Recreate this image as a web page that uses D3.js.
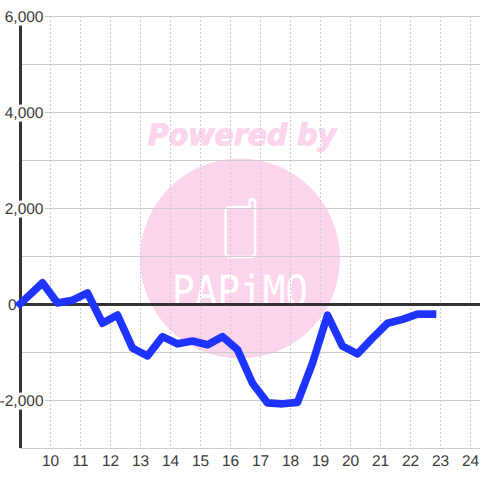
<!DOCTYPE html>
<html><head><meta charset="utf-8">
<style>html,body{margin:0;padding:0;background:#fff}svg{display:block;text-rendering:geometricPrecision}</style>
<script src="https://cdn.jsdelivr.net/npm/d3@7"></script>
</head><body><svg id="c" width="480" height="480"></svg>
<script>
const hours=[9,9.75,10.25,10.75,11.25,11.75,12.25,12.75,13.25,13.75,14.25,14.75,15.25,15.75,16.25,16.75,17.25,17.75,18.25,18.75,19.25,19.75,20.25,20.75,21.25,21.75,22.25,22.75];
const values=[0,440,20,80,230,-400,-230,-920,-1080,-680,-830,-770,-850,-680,-950,-1650,-2060,-2080,-2050,-1230,-230,-880,-1040,-710,-400,-320,-210,-210];
const xTicks=[10,11,12,13,14,15,16,17,18,19,20,21,22,23,24];
const yMajor=[6000,4000,2000,0,-2000];
const yMinor=[5000,3000,1000,-1000,-3000];
const watermarkTop="Powered by";
const watermarkName="PAPiMO";

const svg=d3.select("#c");
const x=d3.scaleLinear().domain([9,24]).range([20,470]);
const y=d3.scaleLinear().domain([-3000,6000]).range([448,16]);
const grey="#cccccc",dark="#333",pink="#fbd5ec";

// watermark
const wm=svg.append("g");
wm.append("circle").attr("cx",240).attr("cy",258.5).attr("r",100).attr("fill",pink);
wm.append("text").text(watermarkTop).attr("x",148).attr("y",144.5).attr("textLength",188).attr("lengthAdjust","spacingAndGlyphs")
  .attr("font-family","DejaVu Sans").attr("font-weight","bold").attr("font-style","italic").attr("font-size",29.5).attr("fill",pink).attr("stroke",pink).attr("stroke-width",1.2);
wm.append("path").attr("d","M230 207H249.5V202a2.75 2.75 0 0 1 5.5 0V253a4 4 0 0 1 -4 4H229.5a4 4 0 0 1 -4 -4V211a4 4 0 0 1 4 -4Z")
  .attr("fill","none").attr("stroke","#fff").attr("stroke-width",2.4);
wm.append("text").text(watermarkName).attr("x",172).attr("y",306).attr("textLength",136).attr("lengthAdjust","spacingAndGlyphs")
  .attr("font-family","DejaVu Sans Mono").attr("font-size",43).attr("fill","#fff");

// vertical dashed grid
const gx=svg.append("g").attr("transform","translate(0,448)").call(d3.axisBottom(x).tickValues(xTicks).tickSize(-432).tickFormat(""));
gx.select(".domain").remove();
gx.selectAll("line").attr("stroke",grey).attr("stroke-dasharray","2,2").attr("stroke-dashoffset",2).attr("shape-rendering","crispEdges");

// horizontal grid
const allY=yMajor.concat(yMinor).filter(v=>v!==0);
const gy=svg.append("g").attr("transform","translate(20,0)").call(d3.axisRight(y).tickValues(allY).tickSize(460).tickFormat(""));
gy.select(".domain").remove();
gy.selectAll("line").attr("stroke",grey).attr("stroke-width",1).attr("shape-rendering","crispEdges");

// axis lines
svg.append("line").attr("x1",x(9)+0.5).attr("x2",x(9)+0.5).attr("y1",16).attr("y2",448).attr("stroke",dark).attr("stroke-width",3);
svg.append("line").attr("x1",20).attr("x2",480).attr("y1",y(0)+0.5).attr("y2",y(0)+0.5).attr("stroke",dark).attr("stroke-width",3);

// y labels with white backing
const fmt=d3.format(",");
const yl=svg.append("g").selectAll("g").data(yMajor).join("g");
yl.append("rect").attr("fill","#fff");
yl.append("text").attr("x",d=>d===0?16.5:43.5).attr("y",d=>y(d)+5.6).attr("text-anchor","end")
  .attr("font-family","Liberation Sans").attr("font-size",15.5).attr("fill","#3a3a3a").text(d=>fmt(d).replace("−","-"));
yl.each(function(){const t=d3.select(this).select("text"),b=t.node().getBBox();
  d3.select(this).select("rect").attr("x",b.x-1).attr("y",b.y).attr("width",b.width+2).attr("height",b.height);});

// x labels
svg.append("g").selectAll("text").data(xTicks).join("text").attr("x",d=>x(d)+0.5).attr("y",466).attr("text-anchor","middle")
  .attr("font-family","Liberation Sans").attr("font-size",15.5).attr("fill","#3a3a3a").text(d=>d);

// series
const line=d3.line().x((d,i)=>x(hours[i])).y(d=>y(d));
svg.append("path").attr("d",line(values)).attr("fill","none").attr("stroke","#1f35ff").attr("stroke-width",7.6).attr("stroke-linejoin","round").attr("stroke-linecap","square");
</script></body></html>
